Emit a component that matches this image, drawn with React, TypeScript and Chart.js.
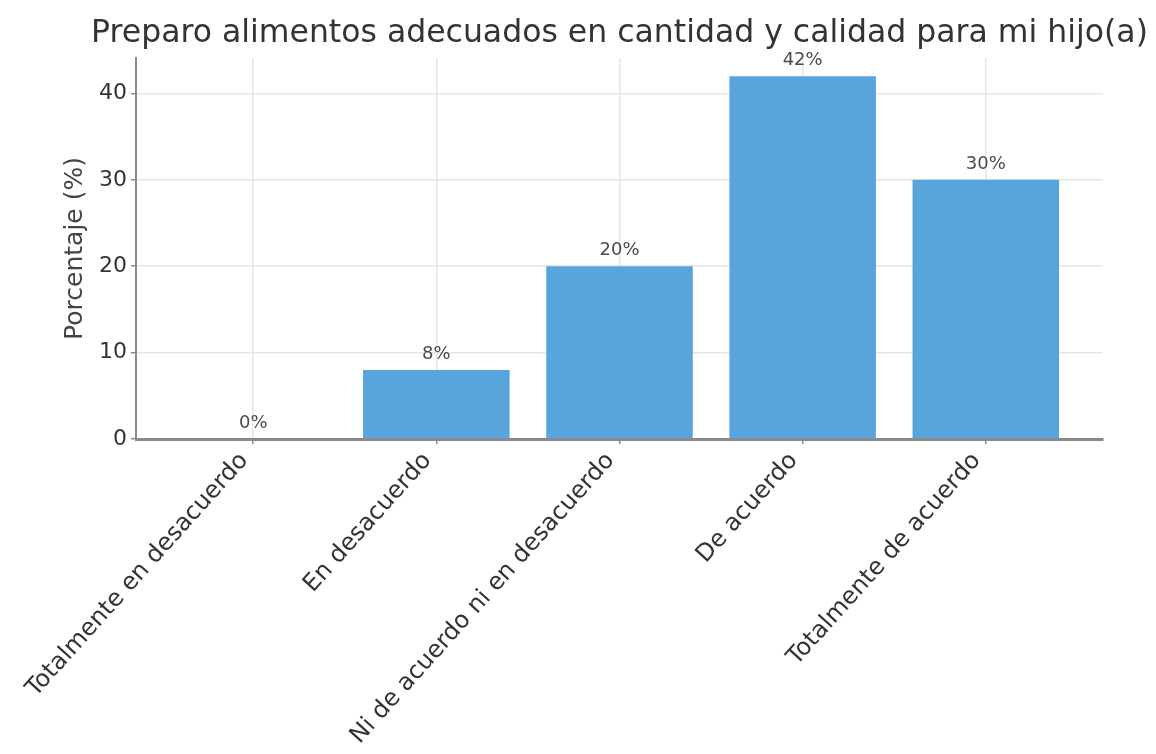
import { useEffect, useRef } from "react";
import { Chart, registerables } from "chart.js";

Chart.register(...registerables);

const TITLE = "Preparo alimentos adecuados en cantidad y calidad para mi hijo(a)";
const Y_LABEL = "Porcentaje (%)";
const categories = [
  "Totalmente en desacuerdo",
  "En desacuerdo",
  "Ni de acuerdo ni en desacuerdo",
  "De acuerdo",
  "Totalmente de acuerdo",
];
const values = [0, 8, 20, 42, 30];
const barLabels = ["0%", "8%", "20%", "42%", "30%"];
const yTicks = [0, 10, 20, 30, 40];

const FONT = "'DejaVu Sans', sans-serif";

const annotate = {
  id: "annotate",
  afterDatasetsDraw(chart: any) {
    const ctx = chart.ctx;
    const meta = chart.getDatasetMeta(0);
    const y = chart.scales.y;
    const ca = chart.chartArea;
    ctx.save();
    ctx.font = `31.5px ${FONT}`;
    ctx.fillStyle = "#333333";
    ctx.textAlign = "center";
    ctx.textBaseline = "alphabetic";
    ctx.fillText(TITLE, (ca.left + ca.right) / 2, 42);
    ctx.font = `18px ${FONT}`;
    ctx.fillStyle = "#4a4a4a";
    ctx.textBaseline = "bottom";
    meta.data.forEach((bar: any, i: number) => {
      ctx.fillText(barLabels[i], bar.x, y.getPixelForValue(values[i] + 1) + 2);
    });
    ctx.restore();
  },
};

export default function App() {
  const ref = useRef<HTMLCanvasElement | null>(null);
  useEffect(() => {
    if (!ref.current) return;
    Chart.defaults.font.family = FONT;
    const chart = new Chart(ref.current, {
      type: "bar",
      data: {
        datasets: [
          {
            data: categories.map((_, i) => ({ x: i, y: values[i] })),
            backgroundColor: "#58a5dc",
            borderWidth: 0,
            categoryPercentage: 1,
            barPercentage: 0.8,
          },
        ],
      },
      options: {
        animation: false,
        responsive: false,
        maintainAspectRatio: false,
        layout: { padding: { top: 58, right: 53, left: 0, bottom: 0 } },
        plugins: {
          legend: { display: false },
          tooltip: { enabled: false },
          title: { display: false },
        },
        scales: {
          x: {
            type: "linear",
            bounds: "data",
            offset: false,
            min: -0.64,
            max: 4.64,
            afterBuildTicks: (s: any) => {
              s.ticks = categories.map((_, i) => ({ value: i }));
            },
            afterFit: (s: any) => {
              s.height = 315;
            },
            ticks: {
              autoSkip: false,
              minRotation: 48,
              maxRotation: 48,
              padding: 3,
              labelOffset: -9,
              color: "#333333",
              font: { size: 24 },
              callback: (v: any) => categories[v as number] ?? "",
            },
            grid: { offset: false, color: "#e6e6e6", lineWidth: 1.5, tickLength: 5, tickColor: "#888888" },
            border: { color: "#8a8a8a", width: 3 },
          },
          y: {
            type: "linear",
            min: 0,
            max: 44.1,
            afterBuildTicks: (s: any) => {
              s.ticks = yTicks.map((v) => ({ value: v }));
            },
            afterFit: (s: any) => {
              s.width = 136;
            },
            ticks: { padding: 4, color: "#333333", font: { size: 22 } },
            grid: { color: "#e6e6e6", lineWidth: 1.5, tickLength: 5, tickColor: "#888888" },
            border: { color: "#8a8a8a", width: 2 },
            title: {
              display: true,
              text: Y_LABEL,
              color: "#444444",
              font: { size: 25 },
              padding: { top: 60, bottom: 0 },
            },
          },
        },
      },
      plugins: [annotate],
    });
    return () => chart.destroy();
  }, []);
  return (
    <div style={{ position: "absolute", left: 0, top: 0, width: 1156, height: 754, background: "#fff" }}>
      <canvas ref={ref} width={1156} height={754} style={{ display: "block" }} />
    </div>
  );
}
